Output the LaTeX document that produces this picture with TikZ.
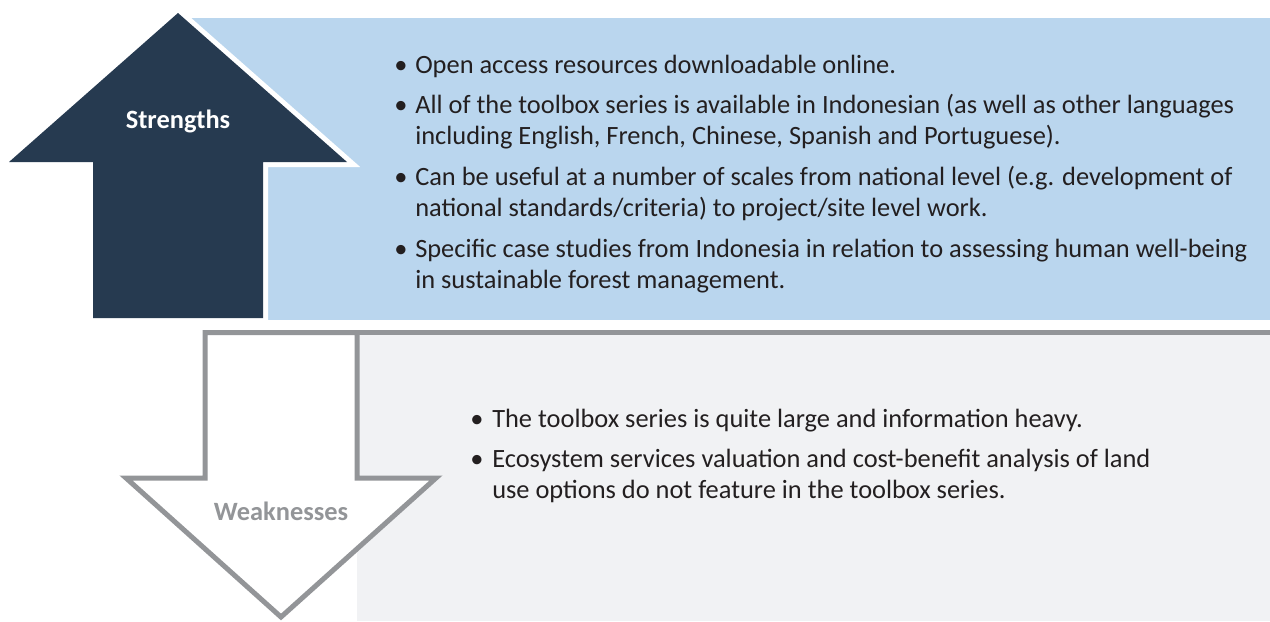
\documentclass[tikz,border=0pt]{standalone}
\usepackage{fontspec}
\setmainfont{Carlito}
\definecolor{navy}{HTML}{263A50}
\definecolor{skyblue}{HTML}{BAD6EE}
\definecolor{paleg}{HTML}{F1F2F4}
\definecolor{lineg}{HTML}{939598}
\definecolor{txt}{HTML}{231F20}
\newcommand{\twolines}[2]{\parbox[t]{22cm}{#1\\#2}}
\begin{document}
\begin{tikzpicture}[x=0.75pt,y=-0.75pt,
  bodytext/.style={inner sep=0pt, anchor=base west, text=txt, font=\fontsize{19.8}{23.25}\selectfont},
  bul/.style={inner sep=0pt, anchor=base, text=txt, font=\fontsize{19.8}{23.25}\selectfont},
  label/.style={font=\fontsize{19.8}{23}\selectfont\bfseries}]
\useasboundingbox (0,0) rectangle (1270,621);
% strengths panel
\fill[skyblue] (186,18) rectangle (1270,320);
\path[draw=white, line width=7.5pt, line join=miter, fill=navy]
  (178,13) -- (347,162) -- (263,162) -- (263,318) -- (93,318) -- (93,162) -- (9,162) -- cycle;
\fill[navy] (178,13) -- (347,162) -- (263,162) -- (263,318) -- (93,318) -- (93,162) -- (9,162) -- cycle;
\node[label, text=white] (s) at (178,121) {Strengths};
% weaknesses panel
\fill[paleg] (357,332) rectangle (1270,621);
\draw[lineg, line width=3.75pt] (357,332.5) -- (1270,332.5);
\draw[lineg, line width=3.75pt, line join=miter, fill=white]
  (205,332.5) -- (357,332.5) -- (357,478) -- (436,478) -- (281,617) -- (126,478) -- (205,478) -- cycle;
\node[label, text=lineg] (w) at (281,511) {Weaknesses};
% strengths bullets
\node[bul] (b1) at (401,73) {•};
\node[bodytext] (t1) at (415,73) {Open access resources downloadable online.};
\node[bul] (b2) at (401,113) {•};
\node[bodytext] (t2) at (415,113) {\twolines{All of the toolbox series is available in Indonesian (as well as other languages}{including English, French, Chinese, Spanish and Portuguese).}};
\node[bul] (b3) at (401,185) {•};
\node[bodytext] (t3) at (415,185) {\twolines{Can be useful at a number of scales from national level (e.g. development of}{national standards/criteria) to project/site level work.}};
\node[bul] (b4) at (401,257) {•};
\node[bodytext] (t4) at (415,257) {\twolines{Specific case studies from Indonesia in relation to assessing human well-being}{in sustainable forest management.}};
% weaknesses bullets
\node[bul] (c1) at (477,427) {•};
\node[bodytext] (u1) at (492,427) {The toolbox series is quite large and information heavy.};
\node[bul] (c2) at (477,467) {•};
\node[bodytext] (u2) at (492,467) {\twolines{Ecosystem services valuation and cost-benefit analysis of land}{use options do not feature in the toolbox series.}};
\end{tikzpicture}
\end{document}
